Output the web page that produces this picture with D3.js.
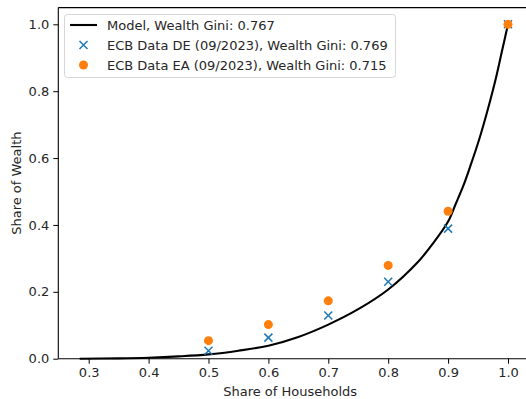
<!DOCTYPE html>
<html>
<head>
<meta charset="utf-8">
<script src="https://cdn.jsdelivr.net/npm/d3@7"></script>
<style>
  html, body { margin: 0; padding: 0; background: #fff; }
  svg { display: block; font-family: "DejaVu Sans", sans-serif; }
</style>
</head>
<body>
<svg id="chart" width="526" height="399"></svg>
<script>
// ---- data ----
const modelX = [0.285, 0.35, 0.4, 0.45, 0.5, 0.55, 0.6, 0.65, 0.7, 0.75, 0.8, 0.85, 0.875, 0.9, 0.9125, 0.925, 0.9375, 0.95, 0.96, 0.97, 0.98, 0.99, 1.0];
const modelY = [0.0, 0.001, 0.003, 0.007, 0.013, 0.024, 0.039, 0.065, 0.102, 0.148, 0.207, 0.29, 0.345, 0.41, 0.462, 0.515, 0.578, 0.645, 0.705, 0.77, 0.84, 0.92, 1.0];
const dataX = [0.5, 0.6, 0.7, 0.8, 0.9, 1.0];
const deY = [0.024, 0.063, 0.129, 0.230, 0.389, 1.0];
const eaY = [0.054, 0.102, 0.173, 0.279, 0.441, 1.0];
const xTicks = [0.3, 0.4, 0.5, 0.6, 0.7, 0.8, 0.9, 1.0];
const yTicks = [0.0, 0.2, 0.4, 0.6, 0.8, 1.0];
const legendLabels = [
  "Model, Wealth Gini: 0.767",
  "ECB Data DE (09/2023), Wealth Gini: 0.769",
  "ECB Data EA (09/2023), Wealth Gini: 0.715"
];

// ---- layout ----
const svg = d3.select("#chart");
const plot = { left: 58.3, right: 529.4, top: 7.6, bottom: 358.7 };
const x = d3.scaleLinear().domain([0.24925, 1.03575]).range([plot.left, plot.right]);
const y = d3.scaleLinear().domain([0, 1.05]).range([plot.bottom, plot.top]);
const blue = "#1f77b4", orange = "#ff7f0e", txt = "#262626";

// axes
const xAxis = d3.axisBottom(x).tickValues(xTicks).tickFormat(d3.format(".1f")).tickSize(5).tickPadding(4);
const yAxis = d3.axisLeft(y).tickValues(yTicks).tickFormat(d3.format(".1f")).tickSize(5).tickPadding(4);

const gx = svg.append("g").attr("transform", `translate(0,${plot.bottom})`).call(xAxis);
const gy = svg.append("g").attr("transform", `translate(${plot.left},0)`).call(yAxis);
[gx, gy].forEach(g => {
  g.select(".domain").remove();
  g.selectAll(".tick line").attr("stroke", "#000").attr("stroke-width", 1);
  g.selectAll(".tick text").attr("fill", txt).style("font-size", "13px").style("font-family", "DejaVu Sans");
});

// spines
svg.append("line").attr("x1", plot.left).attr("x2", plot.left).attr("y1", plot.top).attr("y2", plot.bottom)
  .attr("stroke", "#000").attr("stroke-width", 1.1);
svg.append("line").attr("x1", plot.left).attr("x2", plot.right).attr("y1", plot.bottom).attr("y2", plot.bottom)
  .attr("stroke", "#000").attr("stroke-width", 1.1);
svg.append("line").attr("x1", plot.left).attr("x2", plot.right).attr("y1", plot.top).attr("y2", plot.top)
  .attr("stroke", "#000").attr("stroke-width", 1.1);

// axis labels
svg.append("text").attr("x", (plot.left + 526) / 2 - 2).attr("y", 396).attr("text-anchor", "middle")
  .attr("fill", txt).style("font-size", "13px").text("Share of Households");
svg.append("text").attr("transform", `translate(21,${(plot.top + plot.bottom) / 2}) rotate(-90)`)
  .attr("text-anchor", "middle").attr("fill", txt).style("font-size", "13px").text("Share of Wealth");

// model line
const modelPts = modelX.map((v, i) => [v, modelY[i]]);
svg.append("path").datum(modelPts)
  .attr("fill", "none").attr("stroke", "#000").attr("stroke-width", 2.1)
  .attr("d", d3.line().x(d => x(d[0])).y(d => y(d[1])).curve(d3.curveCatmullRom.alpha(0.5)));

// DE markers (x)
const xm = 4;
const deG = svg.append("g");
dataX.forEach((v, i) => {
  const cx = x(v), cy = y(deY[i]);
  deG.append("path").attr("d", `M${cx - xm},${cy - xm}L${cx + xm},${cy + xm}M${cx - xm},${cy + xm}L${cx + xm},${cy - xm}`)
    .attr("stroke", blue).attr("stroke-width", 1.5).attr("fill", "none");
});

// EA markers (o)
svg.append("g").selectAll("circle").data(dataX).join("circle")
  .attr("cx", d => x(d)).attr("cy", (d, i) => y(eaY[i])).attr("r", 4.5).attr("fill", orange);

// legend
const lg = svg.append("g");
lg.append("rect").attr("x", 64.5).attr("y", 14.5).attr("width", 331).attr("height", 63).attr("rx", 3)
  .attr("fill", "#fff").attr("fill-opacity", 0.8).attr("stroke", "#d6d6d6").attr("stroke-width", 1);
const rowY = [25, 45, 65];
lg.append("line").attr("x1", 70).attr("x2", 97).attr("y1", rowY[0]).attr("y2", rowY[0])
  .attr("stroke", "#000").attr("stroke-width", 2.1);
{
  const cx = 83.5, cy = rowY[1];
  lg.append("path").attr("d", `M${cx - xm},${cy - xm}L${cx + xm},${cy + xm}M${cx - xm},${cy + xm}L${cx + xm},${cy - xm}`)
    .attr("stroke", blue).attr("stroke-width", 1.5);
}
lg.append("circle").attr("cx", 83.5).attr("cy", rowY[2]).attr("r", 4.5).attr("fill", orange);
legendLabels.forEach((t, i) => {
  lg.append("text").attr("x", 107).attr("y", rowY[i]).attr("dy", "0.36em").attr("fill", txt)
    .style("font-size", "13px").text(t);
});
</script>
</body>
</html>
